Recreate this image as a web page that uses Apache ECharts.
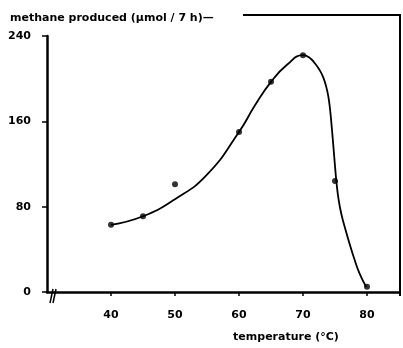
<!DOCTYPE html>
<html>
<head>
<meta charset="utf-8">
<script src="https://cdn.jsdelivr.net/npm/echarts@6/dist/echarts.min.js"></script>
<style>
html, body { margin: 0; padding: 0; background: #fff; }
#main { width: 403px; height: 348px; }
</style>
</head>
<body>
<div id="main"></div>
<script>
// measured points
var temps = [40, 45, 50, 60, 65, 70, 75, 80];
var methane = [63, 71, 101, 150, 197, 222, 104, 5];

// hand drawn curve
var curveX = [40, 45, 50, 55, 60, 62.5, 65, 67.5, 70, 71.02, 71.88, 72.58, 73.13, 73.56, 73.95, 74.25, 74.47,
    74.67, 74.86, 75.05, 75.27, 75.56, 76.0, 76.61, 77.28, 78.0, 78.83, 79.89];
var curveY = [63, 71, 87, 110, 150, 175, 197, 213, 222, 219.7, 214.2, 208.2, 201.7, 193.9, 183.7, 169.9, 156,
    142.2, 128.3, 114.5, 100.6, 86.8, 72.9, 59.1, 45.2, 31.4, 17.5, 4.6];

var yTicks = [0, 80, 160, 240];

var fontFam = 'DejaVu Sans';

var pts = [];
for (var i = 0; i < temps.length; i++) {
    pts.push([temps[i], methane[i]]);
}
var curve = [];
for (var j = 0; j < curveX.length; j++) {
    curve.push([curveX[j], curveY[j]]);
}

var chart = echarts.init(document.getElementById('main'), null, { renderer: 'canvas' });
var option = {
    animation: false,
    backgroundColor: '#fff',
    title: {
        text: 'methane produced (µmol / 7 h)—',
        left: 5,
        top: 8,
        textStyle: { fontFamily: fontFam, fontSize: 11, fontWeight: 'bold', color: '#000' }
    },
    grid: { left: 47, right: 4, top: 36, bottom: 52 },
    xAxis: {
        type: 'value',
        min: 30,
        max: 85,
        interval: 10,
        name: 'temperature (°C)',
        nameLocation: 'middle',
        nameGap: 40,
        nameTextStyle: { fontFamily: fontFam, fontSize: 11, fontWeight: 'bold', color: '#000', padding: [0, 0, 0, 126] },
        splitLine: { show: false },
        axisLine: { lineStyle: { color: '#000', width: 2.5 } },
        axisTick: { length: 4, lineStyle: { color: '#000', width: 1.5 } },
        axisLabel: {
            margin: 18, showMinLabel: false, showMaxLabel: false,
            fontFamily: fontFam, fontSize: 11, fontWeight: 'bold', color: '#000'
        }
    },
    yAxis: {
        type: 'value',
        min: 0,
        max: 240,
        interval: 80,
        splitLine: { show: false },
        axisLine: { show: true, lineStyle: { color: '#000', width: 2.5 } },
        axisTick: { show: true, length: 5, lineStyle: { color: '#000', width: 1.5 } },
        axisLabel: {
            margin: 16,
            fontFamily: fontFam, fontSize: 11, fontWeight: 'bold', color: '#000',
            formatter: function (v) { return yTicks.indexOf(v) >= 0 ? String(v) : ''; }
        }
    },
    graphic: [
        // open frame on top and right
        { type: 'polyline', shape: { points: [[243, 15], [400, 15], [400, 296]] },
          style: { stroke: '#000', lineWidth: 2, fill: null } },
        // axis break
        { type: 'line', shape: { x1: 50, y1: 303, x2: 53, y2: 289 }, style: { stroke: '#000', lineWidth: 1.5 } },
        { type: 'line', shape: { x1: 53, y1: 303, x2: 56, y2: 289 }, style: { stroke: '#000', lineWidth: 1.5 } }
    ],
    series: [
        {
            name: 'curve',
            type: 'line',
            data: curve,
            smooth: 0.5,
            showSymbol: false,
            symbol: 'none',
            lineStyle: { color: '#000', width: 1.8 }
        },
        {
            name: 'measured',
            type: 'scatter',
            data: pts,
            symbol: 'circle',
            symbolSize: 6,
            itemStyle: { color: '#000' }
        }
    ]
};
chart.setOption(option);
</script>
</body>
</html>
